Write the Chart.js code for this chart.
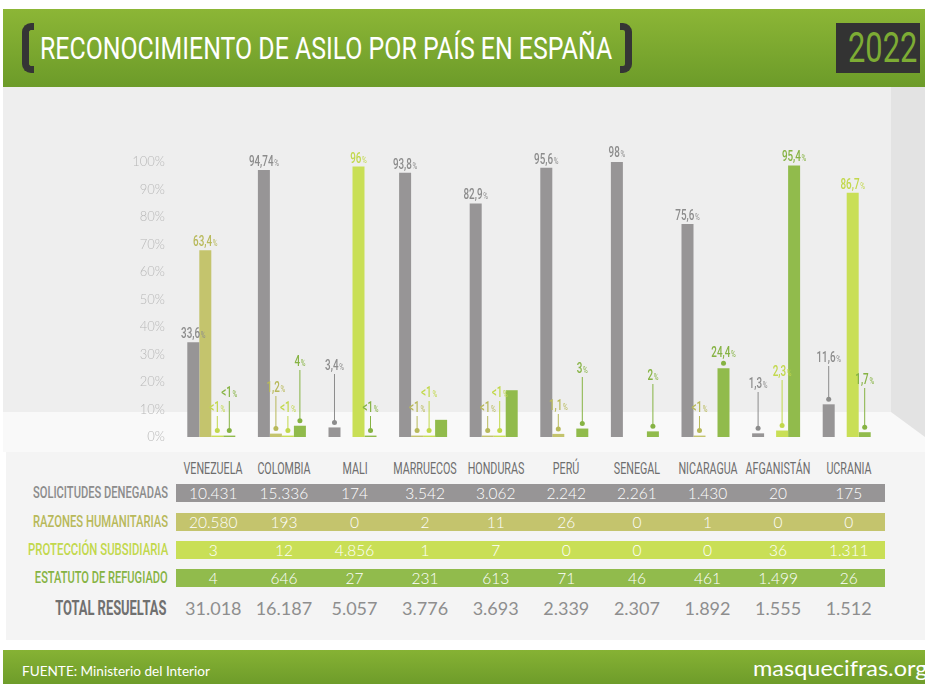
<!DOCTYPE html>
<html lang="es">
<head>
<meta charset="utf-8">
<title>Reconocimiento de asilo por país en España 2022</title>
<script src="https://cdn.jsdelivr.net/npm/chart.js@4.4.1/dist/chart.umd.min.js"></script>
<style>
  html, body { margin: 0; padding: 0; background: #fff; }
  #page { position: relative; width: 925px; height: 684px; overflow: hidden; font-family: Roboto, "Open Sans", sans-serif; }
  .abs { position: absolute; white-space: nowrap; }
  #header { left: 3px; top: 9px; width: 922px; height: 78px; background: linear-gradient(#8cb636, #6c9b29); }
  .bracket { top: 23px; width: 5px; height: 36px; border: 7px solid #353535; }
  #bl { left: 22px; border-right: none; border-radius: 9px 0 0 9px; }
  #br { left: 620px; border-left: none; border-radius: 0 9px 9px 0; }
  #title { left: 40px; top: 32px; font-size: 32px; line-height: 32px; font-weight: 400; color: #fff; transform-origin: left center; }
  #yearBox { left: 836px; top: 23px; width: 84px; height: 50px; background: #333; }
  #year { left: 848px; top: 27px; font-size: 42px; line-height: 42px; font-weight: 400; color: #7dac34; transform-origin: left center; }
  #wall { left: 3px; top: 87px; width: 922px; height: 325px; background: #eeeeee; }
  #floor { left: 3px; top: 412px; width: 922px; height: 40px; background: #f9f9f9; }
  #side { left: 891px; top: 87px; width: 34px; height: 350px; background: #e3e3e3; clip-path: polygon(0 0, 100% 0, 100% 100%, 0 325px); }
  #tableBg { left: 6px; top: 452px; width: 919px; height: 188px; background: #f4f4f4; }
  #footer { left: 3px; top: 650px; width: 922px; height: 34px; background: linear-gradient(#86b234, #6e9c2a); }
  #src { left: 22px; top: 662px; font-family: Lato, sans-serif; font-size: 13px; line-height: 18px; color: #fff; transform-origin: left center; }
  #site { left: 753px; top: 654px; font-family: Lato, sans-serif; font-size: 22px; line-height: 28px; color: #fff; transform-origin: left center; }
  #chart { position: absolute; left: 0; top: 87px; }
  .country { font-size: 16.5px; line-height: 20px; color: #6e6e6e; transform: translateX(-50%) scaleX(0.65); }
  .rowLabel { font-size: 16.5px; line-height: 18px; font-weight: 500; transform-origin: right center; }
  .band { height: 18px; }
  .cell { font-family: Lato, sans-serif; font-weight: 300; font-size: 15.5px; line-height: 18px; color: #fff; transform: translateX(-50%); }
  .total { font-family: Lato, sans-serif; font-weight: 400; font-size: 18px; line-height: 24px; color: #8e8e8e; transform: translateX(-50%); }
</style>
</head>
<body>
<div id="page">
  <div id="header" class="abs"></div>
  <div id="bl" class="abs bracket"></div>
  <div id="br" class="abs bracket"></div>
  <div id="title" class="abs">RECONOCIMIENTO DE ASILO POR PAÍS EN ESPAÑA</div>
  <div id="yearBox" class="abs"></div>
  <div id="year" class="abs">2022</div>
  <div id="wall" class="abs"></div>
  <div id="floor" class="abs"></div>
  <div id="side" class="abs"></div>
  <div id="tableBg" class="abs"></div>
  <canvas id="chart" width="925" height="363"></canvas>
  <div id="table"></div>
  <div id="footer" class="abs"></div>
  <div id="src" class="abs">FUENTE: Ministerio del Interior</div>
  <div id="site" class="abs">masquecifras.org</div>
</div>
<script>
// countries and the four kinds of resolution
const countries = ['VENEZUELA', 'COLOMBIA', 'MALI', 'MARRUECOS', 'HONDURAS', 'PERÚ', 'SENEGAL', 'NICARAGUA', 'AFGANISTÁN', 'UCRANIA'];
const seriesNames = ['SOLICITUDES DENEGADAS', 'RAZONES HUMANITARIAS', 'PROTECCIÓN SUBSIDIARIA', 'ESTATUTO DE REFUGIADO'];

// bar heights, % of resolved applications
const pctDenegadas   = [33.6, 94.74, 3.4, 93.8, 82.9, 95.6, 98.0, 75.6, 1.3, 11.6];
const pctHumanitarias = [66.3, 1.2, 0, 0.5, 0.5, 1.1, 0, 0.5, 0, 0];
const pctSubsidiaria = [0.5, 0.5, 96.0, 0.5, 0.5, 0, 0, 0, 2.3, 86.7];
const pctRefugiado   = [0.5, 4.0, 0.5, 6.1, 16.6, 3.0, 2.0, 24.4, 96.4, 1.7];

// labels printed on the chart
const lblDenegadas   = ['33,6', '94,74', '3,4', '93,8', '82,9', '95,6', '98', '75,6', '1,3', '11,6'];
const lblHumanitarias = ['63,4', '1,2', null, '<1', '<1', '1,1', null, '<1', null, null];
const lblSubsidiaria = ['<1', '<1', '96', '<1', '<1', null, null, null, '2,3', '86,7'];
const lblRefugiado   = ['<1', '4', '<1', null, null, '3', '2', '24,4', '95,4', '1,7'];

// table counts
const nDenegadas   = [10431, 15336, 174, 3542, 3062, 2242, 2261, 1430, 20, 175];
const nHumanitarias = [20580, 193, 0, 2, 11, 26, 0, 1, 0, 0];
const nSubsidiaria = [3, 12, 4856, 1, 7, 0, 0, 0, 36, 1311];
const nRefugiado   = [4, 646, 27, 231, 613, 71, 46, 461, 1499, 26];
const nTotal       = [31018, 16187, 5057, 3776, 3693, 2339, 2307, 1892, 1555, 1512];

const yTicks = [0, 10, 20, 30, 40, 50, 60, 70, 80, 90, 100];

// how high (px above the baseline) the small-bar callouts sit
const liftDen = [null, null, 72, null, null, null, null, null, 54, 80];
const liftHum = [null, 50, null, 30, 30, 32, null, 30, null, null];
const liftSub = [30, 30, null, 45, 45, null, null, null, 66, null];
const liftRef = [45, 76, 30, null, null, 69, 62, 85, null, 58];

const barColors = ['#979596', '#c4c46d', '#c9df56', '#91bb4c'];
const textColors = ['#8c8c8c', '#b8b95a', '#c2d84c', '#86b343'];

function fmt(n) {
    return String(n).replace(/\B(?=(\d{3})+(?!\d))/g, '.');
}

function fitW(el, w) {
    el.style.transform = 'scaleX(' + (w / el.offsetWidth) + ')';
}

function drawPct(ctx, num, x, cy, color) {
    ctx.save();
    ctx.translate(x, cy);
    ctx.scale(0.68, 1);
    ctx.fillStyle = color;
    ctx.textBaseline = 'alphabetic';
    const big = '500 14.5px Roboto, sans-serif';
    const small = '400 9.5px Roboto, sans-serif';
    ctx.font = big;
    const w1 = ctx.measureText(num).width;
    ctx.font = small;
    const w2 = ctx.measureText('%').width;
    const x0 = -(w1 + w2 + 1) / 2;
    ctx.font = big;
    ctx.fillText(num, x0, 5);
    ctx.font = small;
    ctx.fillText('%', x0 + w1 + 1, 5);
    ctx.restore();
}

const callouts = {
    id: 'callouts',
    afterDatasetsDraw(chart) {
        const ctx = chart.ctx;
        const base = chart.chartArea.bottom;
        chart.data.datasets.forEach((ds, i) => {
            chart.getDatasetMeta(i).data.forEach((bar, j) => {
                const txt = ds.pctLabels[j];
                if (txt == null) return;
                const lift = ds.lift[j];
                let cy = bar.y - 9;
                if (lift != null) {
                    cy = base - lift;
                    const dotY = bar.y - 5;
                    ctx.save();
                    ctx.strokeStyle = ds.labelColor;
                    ctx.fillStyle = ds.labelColor;
                    ctx.lineWidth = 1;
                    ctx.beginPath();
                    ctx.moveTo(bar.x, cy + 9);
                    ctx.lineTo(bar.x, dotY);
                    ctx.stroke();
                    ctx.beginPath();
                    ctx.arc(bar.x, dotY, 2.5, 0, Math.PI * 2);
                    ctx.fill();
                    ctx.restore();
                }
                drawPct(ctx, txt, bar.x, cy, ds.labelColor);
            });
        });
    }
};

const pcts = [pctDenegadas, pctHumanitarias, pctSubsidiaria, pctRefugiado];
const lbls = [lblDenegadas, lblHumanitarias, lblSubsidiaria, lblRefugiado];
const lifts = [liftDen, liftHum, liftSub, liftRef];
const counts = [nDenegadas, nHumanitarias, nSubsidiaria, nRefugiado];

const chart = new Chart(document.getElementById('chart').getContext('2d'), {
    type: 'bar',
    data: {
        labels: countries,
        datasets: seriesNames.map((name, i) => ({
            label: name,
            data: pcts[i],
            backgroundColor: barColors[i],
            yAxisID: 'yb',
            categoryPercentage: 0.68,
            barPercentage: 1,
            pctLabels: lbls[i],
            lift: lifts[i],
            labelColor: textColors[i]
        }))
    },
    options: {
        responsive: false,
        animation: false,
        layout: { padding: { top: 75, bottom: 13, right: 43, left: 0 } },
        plugins: { legend: { display: false }, tooltip: { enabled: false } },
        scales: {
            x: { display: false },
            y: {
                position: 'left',
                min: 0,
                max: 100,
                afterFit(scale) {
                    scale.width = 176;
                    scale.paddingTop = 0;
                    scale.paddingBottom = 0;
                },
                afterBuildTicks(scale) { scale.ticks = yTicks.map(v => ({ value: v })); },
                grid: { display: false, drawTicks: false },
                border: { display: false },
                ticks: {
                    padding: 11,
                    color: '#b8b8b8',
                    font: { family: 'Lato, sans-serif', size: 13, weight: '300' },
                    callback: v => v + '%'
                }
            },
            yb: { display: false, min: 0, max: 97.6 }
        }
    },
    plugins: [callouts]
});

// header / footer text widths
fitW(document.getElementById('title'), 572);
fitW(document.getElementById('year'), 69);
fitW(document.getElementById('src'), 188);
fitW(document.getElementById('site'), 174);

// table under the chart, columns taken from the x scale
const table = document.getElementById('table');
const xs = chart.scales.x;
const area = chart.chartArea;
function add(cls, text, css) {
    const d = document.createElement('div');
    d.className = 'abs ' + cls;
    if (text != null) d.textContent = text;
    Object.assign(d.style, css);
    table.appendChild(d);
    return d;
}
countries.forEach((c, j) => {
    add('country', c, { left: (xs.getPixelForValue(j) + 2) + 'px', top: '459px' });
});
const rowTops = [484, 513, 541, 569];
const labelWidths = [135, 135, 140, 133];
seriesNames.forEach((name, i) => {
    add('band', null, {
        left: area.left + 'px', top: rowTops[i] + 'px',
        width: (area.right - area.left + 3) + 'px', background: barColors[i]
    });
    const l = add('rowLabel', name, { right: (925 - 168) + 'px', top: rowTops[i] + 'px', color: textColors[i] });
    fitW(l, labelWidths[i]);
    counts[i].forEach((n, j) => {
        add('cell', fmt(n), { left: (xs.getPixelForValue(j) + 2) + 'px', top: rowTops[i] + 'px' });
    });
});
const tl = add('rowLabel', 'TOTAL RESUELTAS', {
    right: (925 - 166) + 'px', top: '596px', fontSize: '20px', lineHeight: '24px', fontWeight: '700', color: '#707070'
});
fitW(tl, 111);
nTotal.forEach((n, j) => {
    add('total', fmt(n), { left: (xs.getPixelForValue(j) + 2) + 'px', top: '596px' });
});
</script>
</body>
</html>
